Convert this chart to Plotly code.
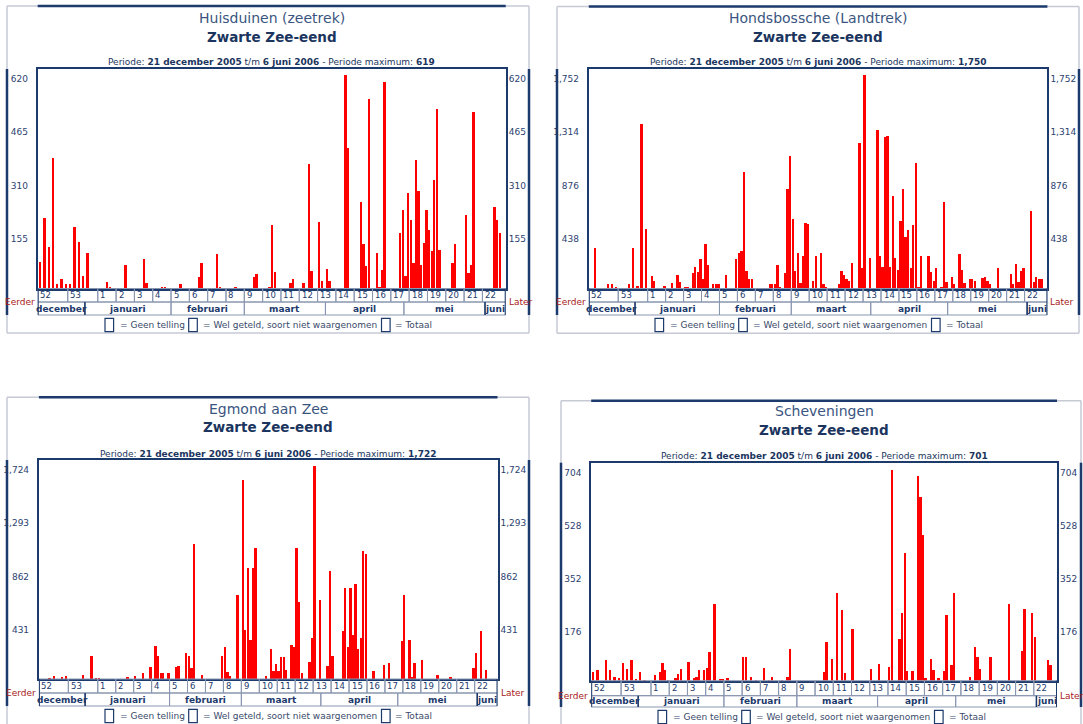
import datetime as dt
import plotly.graph_objects as go

# ---------------------------------------------------------------- data
period_start = "2005-12-21"
period_end = "2006-06-06"
species = "Zwarte Zee-eend"
stations = ["Huisduinen (zeetrek)", "Hondsbossche (Landtrek)", "Egmond aan Zee", "Scheveningen"]
period_maxima = [619, 1750, 1722, 701]
y_ticks = [
    [155, 310, 465, 620],
    [438, 876, 1314, 1752],
    [431, 862, 1293, 1724],
    [176, 352, 528, 704],
]
week_labels = ["52", "53", "1", "2", "3", "4", "5", "6", "7", "8", "9", "10", "11",
               "12", "13", "14", "15", "16", "17", "18", "19", "20", "21", "22"]
month_labels = {12: "december", 1: "januari", 2: "februari", 3: "maart",
                4: "april", 5: "mei", 6: "juni"}
legend_labels = ["= Geen telling", "= Wel geteld, soort niet waargenomen", "= Totaal"]
earlier_label = "Eerder"
later_label = "Later"

# daily counts, one row per week block (52, 53, 1 ... 22)
counts_huisduinen = [
    76, 204, 119, 378, 14, 29, 13,
    14, 178, 135, 37, 104, 0, 0,
    0, 0, 0, 20, 5, 0, 0,
    0, 0, 0, 69, 0, 0, 0,
    0, 0, 0, 86, 15, 0, 0,
    0, 0, 0, 4, 4, 0, 0,
    0, 0, 0, 12, 0, 0, 0,
    0, 0, 0, 32, 73, 0, 0,
    0, 0, 0, 99, 5, 0, 0,
    0, 0, 0, 4, 0, 0, 0,
    0, 0, 0, 32, 42, 0, 0,
    0, 0, 5, 183, 48, 0, 0,
    0, 0, 0, 17, 29, 0, 0,
    0, 16, 0, 361, 51, 0, 0,
    192, 22, 0, 56, 22, 0, 0,
    0, 0, 0, 619, 408, 0, 0,
    0, 0, 250, 130, 65, 551, 0,
    0, 102, 5, 53, 598, 0, 0,
    0, 0, 0, 160, 227, 36, 276,
    198, 73, 374, 283, 68, 133, 227,
    169, 109, 316, 522, 111, 0, 0,
    0, 0, 73, 128, 0, 0, 0,
    213, 44, 68, 511, 0, 0, 0,
    0, 0, 0, 0, 237, 198, 160,
]
counts_hondsbossche = [
    0, 334, 0, 0, 33, 33, 14,
    0, 0, 33, 334, 22, 1345, 484,
    0, 101, 60, 0, 0, 0, 22,
    0, 0, 46, 0, 109, 55, 0,
    14, 14, 0, 128, 178, 137, 238,
    74, 364, 191, 0, 41, 33, 33,
    0, 0, 109, 0, 0, 0, 238,
    287, 309, 957, 145, 82, 74, 0,
    0, 0, 0, 0, 0, 41, 33,
    33, 191, 14, 0, 128, 812, 1085,
    566, 145, 295, 46, 265, 541, 525,
    0, 60, 268, 0, 295, 33, 14,
    0, 0, 0, 0, 41, 142, 107,
    82, 60, 213, 0, 0, 1195, 172,
    1750, 0, 246, 0, 0, 1299, 265,
    178, 1244, 1250, 180, 757, 246, 150,
    555, 812, 424, 478, 172, 519, 1025,
    14, 265, 0, 0, 265, 137, 60,
    170, 0, 14, 711, 55, 0, 96,
    33, 0, 282, 150, 46, 0, 82,
    74, 63, 0, 0, 90, 96, 63,
    33, 0, 0, 170, 0, 0, 0,
    0, 123, 41, 197, 55, 145, 170,
    0, 0, 637, 55, 96, 74, 74,
]
counts_egmond = [
    0, 0, 5, 27, 0, 13, 27,
    0, 0, 0, 35, 0, 188, 5,
    5, 0, 0, 0, 0, 0, 0,
    0, 0, 0, 0, 19, 0, 0,
    27, 0, 0, 46, 0, 0, 100,
    0, 264, 188, 46, 46, 0, 46,
    0, 0, 94, 108, 0, 0, 210,
    188, 89, 1095, 0, 0, 32, 0,
    0, 0, 0, 0, 0, 0, 188,
    255, 54, 22, 0, 0, 681, 0,
    1606, 395, 901, 315, 901, 1063, 0,
    0, 0, 27, 0, 242, 67, 121,
    67, 175, 180, 73, 0, 274, 255,
    1063, 619, 46, 0, 0, 140, 331,
    1722, 0, 638, 0, 0, 108, 874,
    188, 0, 0, 0, 390, 734, 255,
    734, 358, 767, 242, 331, 1036, 1014,
    0, 0, 67, 0, 0, 0, 113,
    0, 126, 0, 0, 0, 0, 304,
    681, 0, 315, 19, 126, 0, 0,
    153, 0, 0, 0, 0, 0, 35,
    0, 0, 0, 0, 19, 0, 0,
    0, 0, 0, 0, 0, 0, 89,
    207, 0, 385, 0, 75, 0, 0,
]
counts_scheveningen = [
    31, 35, 0, 70, 35, 14, 9,
    61, 39, 70, 5, 31, 3, 0,
    0, 19, 0, 30, 61, 35, 3,
    0, 0, 9, 22, 39, 0, 0,
    64, 0, 9, 13, 35, 0, 35,
    44, 96, 0, 255, 0, 5, 5,
    0, 9, 0, 0, 0, 0, 0,
    78, 78, 0, 14, 0, 3, 0,
    0, 44, 0, 3, 13, 0, 0,
    0, 3, 0, 13, 105, 0, 0,
    0, 0, 0, 0, 0, 0, 0,
    0, 0, 0, 30, 130, 0, 74,
    0, 291, 0, 236, 25, 0, 0,
    174, 0, 0, 0, 0, 0, 0,
    39, 0, 0, 55, 0, 0, 0,
    48, 701, 0, 0, 138, 227, 423,
    33, 0, 33, 0, 679, 609, 484,
    11, 0, 74, 35, 0, 9, 0,
    33, 218, 0, 52, 293, 0, 0,
    0, 0, 0, 13, 0, 114, 78,
    39, 0, 0, 3, 78, 0, 0,
    0, 0, 0, 0, 257, 0, 0,
    0, 0, 100, 238, 0, 0, 225,
    147, 0, 0, 0, 0, 69, 53,
]
all_counts = [counts_huisduinen, counts_hondsbossche, counts_egmond, counts_scheveningen]

# ---------------------------------------------------------------- style / geometry
W, H = 1083, 724
FONT = "DejaVu Sans"
NAVY = "#1d3a6c"
TITLE1 = "#3a5580"
TICK = "#2c4270"
BOXLINE = "#8996b0"
FRAME = "#c6cad4"
RED = "#ff0000"
DARKRED = "#a82020"
EARLY_SLOT = 1.64   # width of a day in the compressed weeks 52-53
RIGHT_PAD = 1.9
TOP_HEADROOM = 1.027

panels = [
    dict(plot=(37.7, 505.7, 69.0, 288.5), frame=(7, 529, 6.0, 333.0), t1=18.3, t2=36.7, per=62.3, wk=302.0, mo=315.0, leg=325.0),
    dict(plot=(588.8, 1047.4, 69.0, 288.5), frame=(557, 1079, 6.5, 333.3), t1=18.3, t2=36.7, per=62.3, wk=302.0, mo=315.0, leg=325.0),
    dict(plot=(38.9, 497.5, 460.0, 679.0), frame=(7, 529, 397.3, 760), t1=409.0, t2=427.3, per=454.0, wk=693.0, mo=706.0, leg=716.0),
    dict(plot=(591.2, 1057.0, 462.7, 680.7), frame=(561, 1081, 400.7, 760), t1=411.3, t2=430.0, per=456.3, wk=695.7, mo=707.0, leg=717.0),
]
legend_offsets = [(-163.0, -150.2), (-79.3, -67.3), (113.5, 125.5)]  # box-left, text-left vs frame centre

# ---------------------------------------------------------------- x positions from dates
start = dt.date.fromisoformat(period_start)
end = dt.date.fromisoformat(period_end)
ndays = (end - start).days + 1
dates = [start + dt.timedelta(days=i) for i in range(ndays)]
n_early = 2 * 7


def left_edge(i):
    if i <= n_early:
        return -0.5 - (n_early - i) * EARLY_SLOT
    return i - n_early - 0.5


centers = [(left_edge(i) + left_edge(i + 1)) / 2 for i in range(ndays)]
XL = left_edge(0)
XR = left_edge(ndays) + RIGHT_PAD

week_bounds = []
for w, lab in enumerate(week_labels):
    a = left_edge(7 * w)
    b = left_edge(7 * w + 7) if w < len(week_labels) - 1 else XR
    week_bounds.append((a, b, lab))

month_starts = [0] + [i for i, d in enumerate(dates) if d.day == 1 and i > 0]
month_bounds = []
for j, i in enumerate(month_starts):
    a = left_edge(i)
    b = left_edge(month_starts[j + 1]) if j + 1 < len(month_starts) else XR
    month_bounds.append((a, b, month_labels[dates[i].month]))


def fmt_date(d):
    return f"{d.day} {month_labels[d.month]} {d.year}"


def px(x):
    return x / W


def py(y):
    return 1 - y / H


fig = go.Figure()
shapes, annos = [], []
lay = {}

for p in range(4):
    n = p + 1
    xa = "x" if n == 1 else f"x{n}"
    ya = "y" if n == 1 else f"y{n}"
    yr = f"y{n + 4}"
    g = panels[p]
    x0, x1, y0, y1 = g["plot"]
    fx0, fx1, fy0, fy1 = g["frame"]
    ticks = y_ticks[p]
    R = ticks[-1] * TOP_HEADROOM
    counts = all_counts[p]

    fig.add_trace(go.Bar(x=centers, y=counts, xaxis=xa, yaxis=ya, width=0.9,
                         marker=dict(color=RED, line=dict(width=0)),
                         showlegend=False, name=stations[p]))
    fig.add_trace(go.Scatter(x=[None], y=[None], xaxis=xa, yaxis=yr,
                             showlegend=False, hoverinfo="skip"))

    lay["xaxis" if n == 1 else f"xaxis{n}"] = dict(
        domain=[px(x0), px(x1)], range=[XL, XR], anchor=ya, showticklabels=False,
        ticks="", showgrid=False, zeroline=False, showline=True, mirror=True,
        linecolor=NAVY, linewidth=2, fixedrange=True)
    tick_common = dict(range=[0, R], tickvals=ticks, ticktext=[f"{t:,}" for t in ticks],
                       ticks="", showgrid=False, zeroline=False, fixedrange=True,
                       tickfont=dict(family=FONT, size=9, color=TICK), ticklabelshift=4)
    lay["yaxis" if n == 1 else f"yaxis{n}"] = dict(
        domain=[py(y1), py(y0)], anchor=xa, showline=True, mirror=True,
        linecolor=NAVY, linewidth=2, ticklabelstandoff=6, **tick_common)
    lay[f"yaxis{n + 4}"] = dict(overlaying=ya, side="right", anchor=xa, showline=False,
                                ticklabelstandoff=2, **tick_common)

    # frame
    for (ax0, ay0, ax1, ay1) in [(fx0, fy0, fx1, fy0), (fx0, fy0, fx0, fy1),
                                 (fx1, fy0, fx1, fy1), (fx0, fy1, fx1, fy1)]:
        shapes.append(dict(type="line", xref="paper", yref="paper", x0=px(ax0), y0=py(ay0),
                           x1=px(ax1), y1=py(ay1), line=dict(color=FRAME, width=1.5)))
    shapes.append(dict(type="line", xref="paper", yref="paper", x0=px(x0), x1=px(x1),
                       y0=py(fy0), y1=py(fy0), line=dict(color=NAVY, width=2.5)))
    for fx in (fx0, fx1):
        shapes.append(dict(type="line", xref="paper", yref="paper", x0=px(fx), x1=px(fx),
                           y0=py(y0), y1=py(g["mo"]), line=dict(color=NAVY, width=2.5)))

    # week and month strip
    for a, b, lab in week_bounds:
        shapes.append(dict(type="rect", xref=xa, yref="paper", x0=a, x1=b,
                           y0=py(g["wk"]), y1=py(y1), line=dict(color=BOXLINE, width=1)))
        annos.append(dict(xref=xa, yref="paper", x=a, y=py((y1 + g["wk"]) / 2), text=lab,
                          showarrow=False, xanchor="left", yanchor="middle", xshift=0.5,
                          font=dict(family=FONT, size=8.5, color=NAVY)))
    for a, b, lab in month_bounds:
        shapes.append(dict(type="rect", xref=xa, yref="paper", x0=a, x1=b,
                           y0=py(g["mo"]), y1=py(g["wk"]), line=dict(color=BOXLINE, width=1)))
        annos.append(dict(xref=xa, yref="paper", x=(a + b) / 2, y=py((g["wk"] + g["mo"]) / 2),
                          text=f"<b>{lab}</b>", showarrow=False, xanchor="center", yanchor="middle",
                          font=dict(family=FONT, size=9, color=NAVY)))
    for xv in (XL, XR):
        shapes.append(dict(type="line", xref=xa, yref="paper", x0=xv, x1=xv,
                           y0=py(y1), y1=py(g["mo"]), line=dict(color=NAVY, width=2)))
    shapes.append(dict(type="line", xref=xa, yref="paper", x0=month_bounds[0][1], x1=month_bounds[0][1],
                       y0=py(g["wk"]), y1=py(g["mo"]), line=dict(color=NAVY, width=1.5)))
    shapes.append(dict(type="line", xref=xa, yref="paper", x0=month_bounds[-1][0], x1=month_bounds[-1][0],
                       y0=py(g["wk"]), y1=py(g["mo"]), line=dict(color=NAVY, width=1.5)))

    annos.append(dict(xref="paper", yref="paper", x=px(x0), y=py(g["wk"]), text=earlier_label,
                      showarrow=False, xanchor="right", yanchor="middle", xshift=-1,
                      font=dict(family=FONT, size=9, color=DARKRED)))
    annos.append(dict(xref="paper", yref="paper", x=px(x1), y=py(g["wk"]), text=later_label,
                      showarrow=False, xanchor="left", yanchor="middle", xshift=1,
                      font=dict(family=FONT, size=9, color=DARKRED)))

    # titles
    cx = (x0 + x1) / 2
    annos.append(dict(xref="paper", yref="paper", x=px(cx), y=py(g["t1"]), text=stations[p],
                      showarrow=False, xanchor="center", yanchor="middle",
                      font=dict(family=FONT, size=14, color=TITLE1)))
    annos.append(dict(xref="paper", yref="paper", x=px(cx), y=py(g["t2"]), text=f"<b>{species}</b>",
                      showarrow=False, xanchor="center", yanchor="middle",
                      font=dict(family=FONT, size=13.5, color="#1b355e")))
    per_txt = (f"Periode: <b>{fmt_date(start)}</b> t/m <b>{fmt_date(end)}</b> - "
               f"Periode maximum: <b>{period_maxima[p]:,}</b>")
    annos.append(dict(xref="paper", yref="paper", x=px(cx), y=py(g["per"]), text=per_txt,
                      showarrow=False, xanchor="center", yanchor="middle",
                      font=dict(family=FONT, size=9, color="#1b355e")))

    # legend
    fc = (fx0 + fx1) / 2
    for (bo, to), lab in zip(legend_offsets, legend_labels):
        shapes.append(dict(type="rect", xref="paper", yref="paper", x0=px(fc + bo), x1=px(fc + bo + 8.6),
                           y0=py(g["leg"] + 6.7), y1=py(g["leg"] - 6.7),
                           line=dict(color=NAVY, width=1.2), fillcolor="white"))
        annos.append(dict(xref="paper", yref="paper", x=px(fc + to), y=py(g["leg"]), text=lab,
                          showarrow=False, xanchor="left", yanchor="middle",
                          font=dict(family=FONT, size=9, color="#3a4a6a")))

fig.update_layout(
    width=W, height=H, margin=dict(l=0, r=0, t=0, b=0),
    paper_bgcolor="white", plot_bgcolor="white",
    font=dict(family=FONT, size=9, color=NAVY),
    shapes=shapes, annotations=annos, bargap=0, showlegend=False,
    **lay,
)
fig.write_html("out.html", config={"displayModeBar": False},
               post_script="document.body.style.margin='0';document.body.style.overflow='hidden';")
